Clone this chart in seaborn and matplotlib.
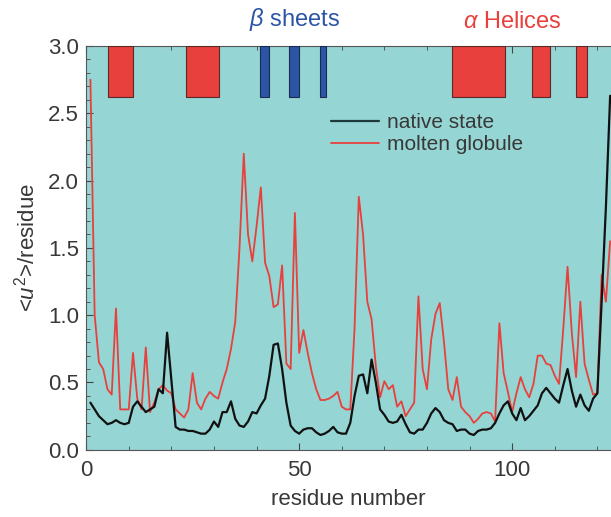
import numpy as np
import pandas as pd
import seaborn as sns
import matplotlib.pyplot as plt
from matplotlib.ticker import MultipleLocator

residue = list(range(1, 124))

molten = [2.75, 1.0, 0.65, 0.6, 0.45, 0.41, 1.05, 0.3, 0.3, 0.3,
          0.72, 0.38, 0.3, 0.76, 0.28, 0.35, 0.45, 0.48, 0.44, 0.42,
          0.3, 0.27, 0.24, 0.3, 0.57, 0.35, 0.3, 0.38, 0.43, 0.4,
          0.38, 0.5, 0.6, 0.75, 0.95, 1.5, 2.2, 1.6, 1.4, 1.66,
          1.95, 1.39, 1.29, 1.06, 1.08, 1.37, 0.64, 0.6, 1.76, 0.72,
          0.89, 0.72, 0.57, 0.45, 0.37, 0.37, 0.38, 0.4, 0.43, 0.32,
          0.3, 0.3, 0.9, 1.88, 1.6, 1.1, 0.97, 0.62, 0.39, 0.51,
          0.45, 0.48, 0.32, 0.36, 0.25, 0.3, 0.35, 1.14, 0.6, 0.45,
          0.82, 1.01, 1.09, 0.8, 0.45, 0.37, 0.54, 0.32, 0.28, 0.25,
          0.2, 0.23, 0.27, 0.28, 0.27, 0.21, 0.94, 0.57, 0.43, 0.28,
          0.42, 0.54, 0.45, 0.39, 0.49, 0.7, 0.7, 0.64, 0.63, 0.55,
          0.49, 0.9, 1.36, 0.87, 0.54, 1.1, 0.64, 0.52, 0.41, 0.42,
          1.3, 1.1, 1.55]

native = [0.35, 0.3, 0.25, 0.22, 0.19, 0.2, 0.22, 0.2, 0.19, 0.2,
          0.32, 0.36, 0.32, 0.28, 0.3, 0.32, 0.45, 0.42, 0.87, 0.52,
          0.17, 0.15, 0.15, 0.14, 0.14, 0.13, 0.12, 0.12, 0.15, 0.21,
          0.17, 0.28, 0.28, 0.36, 0.23, 0.18, 0.17, 0.21, 0.28, 0.27,
          0.33, 0.38, 0.55, 0.78, 0.79, 0.6, 0.35, 0.18, 0.14, 0.12,
          0.15, 0.16, 0.16, 0.13, 0.11, 0.12, 0.14, 0.17, 0.13, 0.12,
          0.12, 0.2, 0.4, 0.55, 0.56, 0.42, 0.67, 0.5, 0.3, 0.26,
          0.21, 0.2, 0.21, 0.26, 0.19, 0.13, 0.12, 0.15, 0.15, 0.2,
          0.27, 0.31, 0.28, 0.22, 0.2, 0.19, 0.14, 0.15, 0.15, 0.12,
          0.11, 0.14, 0.15, 0.15, 0.16, 0.2, 0.27, 0.33, 0.36, 0.27,
          0.22, 0.31, 0.22, 0.25, 0.29, 0.33, 0.42, 0.46, 0.42, 0.38,
          0.35, 0.48, 0.6, 0.44, 0.32, 0.41, 0.33, 0.29, 0.38, 0.42,
          1.1, 1.8, 2.63]

helix_start = [5.2, 23.5, 85.9, 104.7, 115.0]
helix_end = [11.0, 31.2, 98.4, 108.9, 117.6]
sheet_start = [40.8, 47.7, 54.9]
sheet_end = [43.0, 50.0, 56.3]
bar_bottom = 2.62

sns.set_style("ticks")
plt.rcParams['font.family'] = ['Liberation Sans', 'DejaVu Sans']
plt.rcParams['mathtext.fontset'] = 'custom'
plt.rcParams['mathtext.rm'] = 'Liberation Sans'
plt.rcParams['mathtext.it'] = 'Liberation Sans:italic'

bg = '#95d5d3'
red = '#e8403c'
blue = '#2c55a5'
text_col = '#383838'

fig = plt.figure(figsize=(6.11, 5.17), dpi=100)
ax = fig.add_axes([0.141, 0.130, 0.859, 0.781])
ax.set_facecolor(bg)

df = pd.DataFrame({'residue': residue, 'native state': native, 'molten globule': molten})

for s, e in zip(helix_start, helix_end):
    ax.bar(s, 3.0 - bar_bottom, width=e - s, bottom=bar_bottom, align='edge',
           color=red, edgecolor='#5a2a2a', linewidth=0.8, zorder=3)
for s, e in zip(sheet_start, sheet_end):
    ax.bar(s, 3.0 - bar_bottom, width=e - s, bottom=bar_bottom, align='edge',
           color=blue, edgecolor='#1a2a50', linewidth=0.8, zorder=3)

sns.lineplot(data=df, x='residue', y='molten globule', color=red, lw=1.3,
             ax=ax, label='molten globule', zorder=2)
sns.lineplot(data=df, x='residue', y='native state', color='#111111', lw=1.6,
             ax=ax, label='native state', zorder=2)

ax.set_xlim(0, 123.2)
ax.set_ylim(0, 3.0)
ax.xaxis.set_major_locator(MultipleLocator(50))
ax.xaxis.set_minor_locator(MultipleLocator(10))
ax.yaxis.set_major_locator(MultipleLocator(0.5))
ax.yaxis.set_minor_locator(MultipleLocator(0.1))
ax.yaxis.set_major_formatter(plt.FormatStrFormatter('%.1f'))
ax.tick_params(which='both', direction='in', top=True, right=False,
               colors='#444444', labelcolor=text_col, labelsize=16)
ax.tick_params(axis='x', pad=7)
ax.tick_params(axis='y', pad=5)
ax.tick_params(which='major', length=5)
ax.tick_params(which='minor', length=3)
for side in ['left', 'bottom', 'top']:
    ax.spines[side].set_color('#555555')
ax.spines['right'].set_visible(False)

ax.set_xlabel('residue number', fontsize=16, color=text_col, labelpad=6)
ax.set_ylabel(r'<$u^2$>/residue', fontsize=16, color=text_col, labelpad=6)

handles, labels = ax.get_legend_handles_labels()
order = [labels.index('native state'), labels.index('molten globule')]
leg = ax.legend([handles[i] for i in order], [labels[i] for i in order],
                loc='upper left', bbox_to_anchor=(0.43, 0.88), frameon=False,
                fontsize=15, handlelength=2.3, handletextpad=0.4,
                labelspacing=0.15, labelcolor=text_col)
leg.get_lines()[0].set_color('#1e3a3a')

ax.text(49, 3.1, r'$\beta$ sheets', color=blue, fontsize=17,
        ha='center', va='bottom')
ax.text(100, 3.1, r'$\alpha$ Helices', color=red, fontsize=17,
        ha='center', va='bottom')

fig.savefig('out.png', dpi=100)
